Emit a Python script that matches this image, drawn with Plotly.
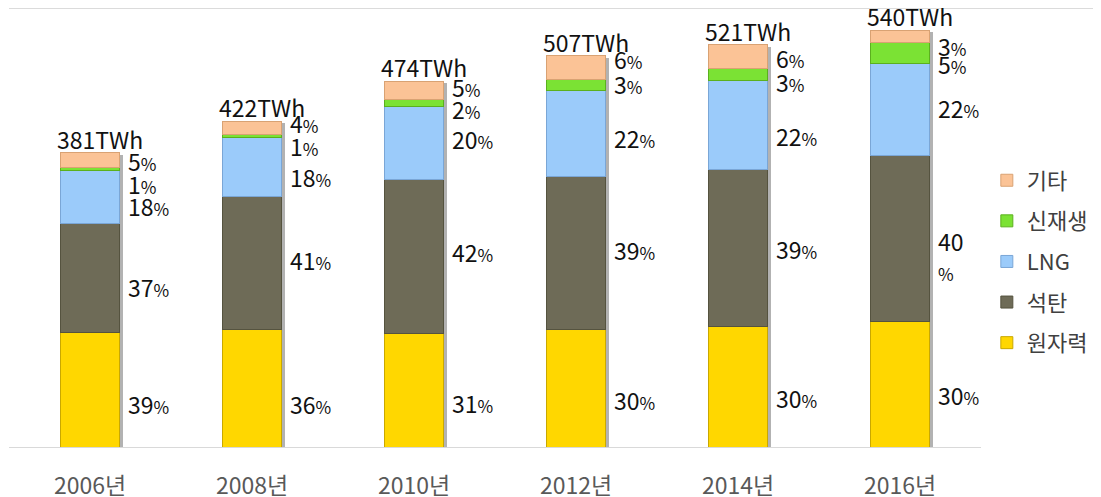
import plotly.graph_objects as go

years = ['2006년', '2008년', '2010년', '2012년', '2014년', '2016년']
totals = [381, 422, 474, 507, 521, 540]  # TWh

# share of each source in %
nuclear = [39, 36, 31, 30, 30, 30]
coal = [37, 41, 42, 39, 39, 40]
lng = [18, 18, 20, 22, 22, 22]
renew = [1, 1, 2, 3, 3, 5]
other = [5, 4, 5, 6, 6, 3]

names = ['원자력', '석탄', 'LNG', '신재생', '기타']
shares = [nuclear, coal, lng, renew, other]
colors = ['#FFD700', '#6E6B57', '#9BCBFA', '#7BE234', '#FBC396']
edges = ['#C9A800', '#55533F', '#7AA6D6', '#5BB01E', '#D9A273']

# where the percentage labels sit (TWh), hand placed like the original
label_y = [
    [52, 52, 53, 57, 60, 64],
    [203, 238, 249, 251, 253, 245],
    [308, 346, 395, 396, 399, 435],
    [337, 386, 434, 466, 469, 492],
    [367, 416, 462, 499, 500, 516],
]

# the page body has an 8px margin, so the plot area is placed 8px up/left
px_per_twh = 0.772
plot_h = 439
ymax = plot_h / px_per_twh
cat_px = 162

fig = go.Figure()

# drop shadow behind the bars (base axes, shifted a few pixels)
fig.add_trace(go.Bar(
    x=years, y=totals,
    marker_color='rgba(0,0,0,0.3)', marker_line_width=0,
    showlegend=False, hoverinfo='skip',
    xaxis='x', yaxis='y'
))

for i, (name, share, color, edge) in enumerate(zip(names, shares, colors, edges)):
    twh = [t * s / 100 for t, s in zip(totals, share)]
    fig.add_trace(go.Bar(
        x=years, y=twh, name=name,
        marker=dict(color=color, line=dict(color=edge, width=1)),
        legendgroup=name, legendrank=len(names) - i,
        xaxis='x2', yaxis='y2'
    ))

pct = "<span style='font-size:17px'>%</span>"
annotations = []
for i, (share, ys) in enumerate(zip(shares, label_y)):
    for j, year in enumerate(years):
        sep = "<br>" if (i == 1 and j == 5) else ""
        annotations.append(dict(
            x=year, y=ys[j], xref='x2', yref='y2',
            text=f"{share[j]}{sep}{pct}",
            showarrow=False, xanchor='left', yanchor='middle', align='left',
            xshift=36, yshift=3, font=dict(size=23, color='#111111')
        ))

for year, t in zip(years, totals):
    annotations.append(dict(
        x=year, y=t, xref='x2', yref='y2', text=f"{t}TWh",
        showarrow=False, xanchor='left', yanchor='bottom',
        xshift=-35, yshift=-5, font=dict(size=23, color='#111111')
    ))

shift = 3 / cat_px
fig.update_layout(
    width=1101, height=497,
    margin=dict(l=1, r=128, t=0, b=58),
    paper_bgcolor='white', plot_bgcolor='white',
    barmode='stack', bargap=0.63,
    font=dict(family='Noto Sans CJK KR, Noto Sans, sans-serif'),
    xaxis=dict(type='category', range=[-0.5 - shift, 5.5 - shift],
               visible=False, fixedrange=True),
    yaxis=dict(range=[2 / px_per_twh, ymax + 2 / px_per_twh],
               visible=False, fixedrange=True),
    xaxis2=dict(type='category', overlaying='x', range=[-0.5, 5.5],
                showline=True, linecolor='#D9D9D9', linewidth=1,
                ticks='outside', ticklen=18, tickcolor='rgba(0,0,0,0)',
                tickfont=dict(size=23, color='#595959'), showgrid=False),
    yaxis2=dict(overlaying='y', range=[0, ymax], visible=False,
                showgrid=False, zeroline=False),
    legend=dict(x=1.006, y=0.655, xanchor='left', yanchor='top',
                traceorder='grouped', tracegroupgap=9,
                font=dict(size=22, color='#404040'),
                bgcolor='rgba(0,0,0,0)'),
    annotations=annotations,
    shapes=[dict(type='line', xref='paper', yref='paper',
                 x0=0, x1=1100 / 972, y0=0.999, y1=0.999,
                 line=dict(color='#D9D9D9', width=1))],
)

fig.write_html("out.html")
